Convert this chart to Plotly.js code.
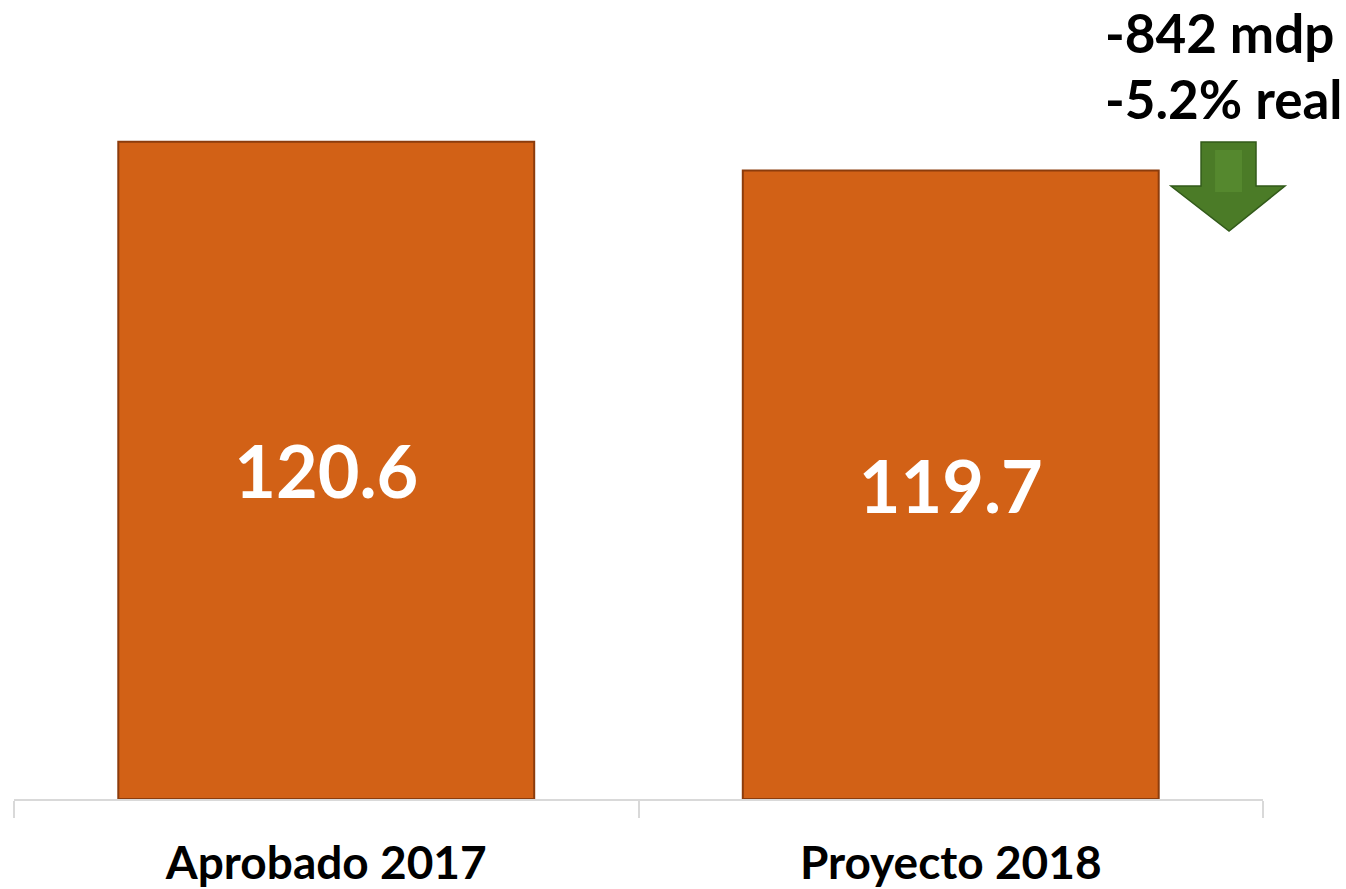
<!DOCTYPE html>
<html>
<head>
<meta charset="utf-8">
<script src="https://cdn.plot.ly/plotly-3.0.1.min.js"></script>
<style>
  html, body { margin: 0; padding: 0; background: #fff; }
  #chart { width: 1346px; height: 889px; }
</style>
</head>
<body>
<div id="chart"></div>
<script>
const categories = ['Aprobado 2017', 'Proyecto 2018'];
const values = [120.6, 119.7];
const valueLabels = ['120.6', '119.7'];
const changeNote = ['-842 mdp', '-5.2% real'];

const W = 1346, H = 889;
const margin = { l: 14, r: 83, t: 97, b: 90 };
const plotW = W - margin.l - margin.r, plotH = H - margin.t - margin.b;
// pixel -> paper helpers for the decorative arrow
const px = x => (x - margin.l) / plotW;
const py = y => (H - margin.b - y) / plotH;
const toPath = pts => 'M' + pts.map(p => px(p[0]).toFixed(4) + ',' + py(p[1]).toFixed(4)).join(' L') + ' Z';

const arrowPath = toPath([
  [1201, 142], [1256, 142], [1256, 186], [1285, 186],
  [1229, 231], [1171, 186], [1201, 186]
]);
const shaftPath = toPath([[1215, 150], [1242, 150], [1242, 192], [1215, 192]]);

const trace = {
  type: 'bar',
  x: categories,
  y: values.map(v => v - 100),
  base: 100,
  text: valueLabels,
  textposition: 'inside',
  insidetextanchor: 'middle',
  textfont: { family: 'Lato, "Open Sans", sans-serif', size: 72, color: '#ffffff', weight: 'bold' },
  marker: { color: '#d26116', line: { color: '#8c3c0c', width: 2 } },
  hoverinfo: 'none'
};

const layout = {
  width: W, height: H,
  margin: margin,
  paper_bgcolor: '#ffffff', plot_bgcolor: '#ffffff',
  showlegend: false,
  bargap: 0.334,
  xaxis: {
    type: 'category', range: [-0.5, 1.5],
    showline: true, linecolor: '#d9d9d9', linewidth: 2,
    ticks: 'outside', tickson: 'boundaries', ticklen: 17, tickcolor: '#d9d9d9', tickwidth: 2,
    ticklabelstandoff: 23,
    tickfont: { family: 'Lato, "Open Sans", sans-serif', size: 46, color: '#000000', weight: 'bold' },
    showgrid: false, zeroline: false, fixedrange: true
  },
  yaxis: {
    range: [100, 122], visible: false, showgrid: false, zeroline: false, fixedrange: true
  },
  shapes: [
    { type: 'path', xref: 'paper', yref: 'paper', path: arrowPath,
      fillcolor: '#4b7b27', line: { color: '#325a1a', width: 1.5 } },
    { type: 'path', xref: 'paper', yref: 'paper', path: shaftPath,
      fillcolor: '#55882e', line: { width: 0 } }
  ],
  annotations: [
    { xref: 'paper', yref: 'paper', x: px(1103), y: py(33), xanchor: 'left', yanchor: 'middle',
      text: changeNote[0], showarrow: false,
      font: { family: 'Lato, "Open Sans", sans-serif', size: 53, color: '#000000', weight: 'bold' } },
    { xref: 'paper', yref: 'paper', x: px(1103), y: py(99), xanchor: 'left', yanchor: 'middle',
      text: changeNote[1], showarrow: false,
      font: { family: 'Lato, "Open Sans", sans-serif', size: 53, color: '#000000', weight: 'bold' } }
  ]
};

Plotly.newPlot('chart', [trace], layout, { displayModeBar: false, staticPlot: true });
</script>
</body>
</html>
